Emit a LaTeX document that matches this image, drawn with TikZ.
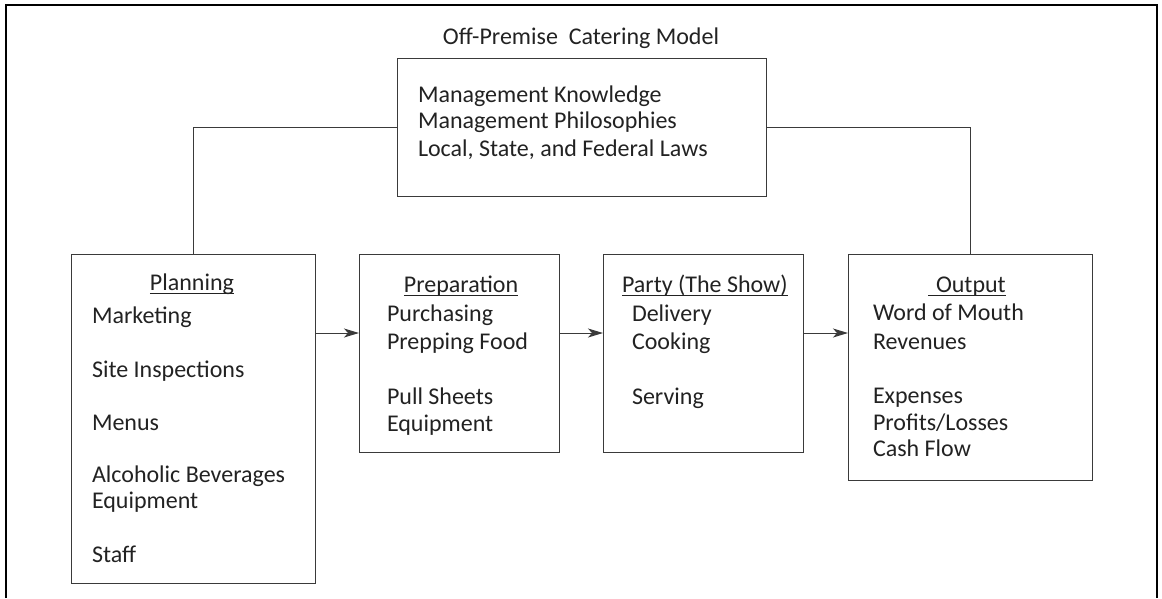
\documentclass[tikz,border=0pt]{standalone}
\usepackage{fontspec}
\setmainfont{Carlito}
\usetikzlibrary{arrows.meta}
\definecolor{ln}{HTML}{3A3A3A}
\definecolor{tx}{HTML}{222222}
\tikzset{
  box/.style={draw=ln, line width=1pt, rectangle, inner sep=0pt, outer sep=0pt, anchor=north west},
  txt/.style={inner sep=0pt, outer sep=0pt, anchor=base west, text=tx, font=\fontsize{24}{27}\selectfont},
  ttl/.style={txt, anchor=base},
  conn/.style={draw=ln, line width=1pt},
  arr/.style={conn, -{Stealth[length=15pt,width=9pt,inset=4pt]}},
  uline/.style={draw=tx, line width=1pt}
}
\begin{document}
\begin{tikzpicture}[x={(1pt,0)}, y={(0,-1pt)}]
\useasboundingbox (0,0) rectangle (1162,598);
% outer frame (open at the bottom)
\draw[draw=black, line width=1.3pt] (6,598) -- (6,5) -- (1157,5) -- (1157,598);

% title
\node[ttl] (title) at (581,44) {Off-Premise\ \ Catering Model};

% boxes
\node[box, minimum width=369pt, minimum height=138pt] (top) at (397,58) {};
\node[box, minimum width=244pt, minimum height=329pt] (plan) at (71,254) {};
\node[box, minimum width=200pt, minimum height=198pt] (prep) at (359,254) {};
\node[box, minimum width=200pt, minimum height=198pt] (party) at (603,254) {};
\node[box, minimum width=244pt, minimum height=226pt] (out) at (848,254) {};

% top box text
\node[txt] (t1) at (418,102) {Management Knowledge};
\node[txt] (t2) at (418,128) {Management Philosophies};
\node[txt] (t3) at (418,156) {Local,\ State,\ and\ Federal\ Laws};

% planning
\node[ttl] (plh) at (192,290) {Planning};
\draw[uline] ([yshift=-3.5pt]plh.base west) -- ([yshift=-3.5pt]plh.base east);
\node[txt] (p1) at (92,323) {Marketing};
\node[txt] (p2) at (92,377) {Site Inspections};
\node[txt] (p3) at (92,430) {Menus};
\node[txt] (p4) at (92,482) {Alcoholic Beverages};
\node[txt] (p5) at (92,508) {Equipment};
\node[txt] (p6) at (92,562) {Staff};

% preparation
\node[ttl] (prh) at (461,292) {Preparation};
\draw[uline] ([yshift=-3.5pt]prh.base west) -- ([yshift=-3.5pt]prh.base east);
\node[txt] (r1) at (387,321) {Purchasing};
\node[txt] (r2) at (387,349) {Prepping Food};
\node[txt] (r3) at (387,404) {Pull Sheets};
\node[txt] (r4) at (387,431) {Equipment};

% party
\node[txt] (pah) at (622,292) {Party (The Show)};
\draw[uline] ([yshift=-3.5pt]pah.base west) -- ([yshift=-3.5pt]pah.base east);
\node[txt] (a1) at (632,321) {Delivery};
\node[txt] (a2) at (632,349) {Cooking};
\node[txt] (a3) at (632,404) {Serving};

% output
\node[txt] (ouh) at (936,292) {Output};
\draw[uline] ([xshift=-8pt,yshift=-3.5pt]ouh.base west) -- ([yshift=-3.5pt]ouh.base east);
\node[txt] (o1) at (873,320) {Word of Mouth};
\node[txt] (o2) at (873,349) {Revenues};
\node[txt] (o3) at (873,403) {Expenses};
\node[txt] (o4) at (873,430) {Profits/Losses};
\node[txt] (o5) at (873,456) {Cash Flow};

% connectors
\coordinate (cl) at (193,127);
\coordinate (cr) at (970,127);
\draw[conn] (top.west |- cl) -- (cl) -- (cl |- plan.north);
\draw[conn] (top.east |- cr) -- (cr) -- (cr |- out.north);
\draw[arr] (plan.east |- 0,333) -- (prep.west |- 0,333);
\draw[arr] (prep.east |- 0,333) -- (party.west |- 0,333);
\draw[arr] (party.east |- 0,333) -- (out.west |- 0,333);
\end{tikzpicture}
\end{document}
